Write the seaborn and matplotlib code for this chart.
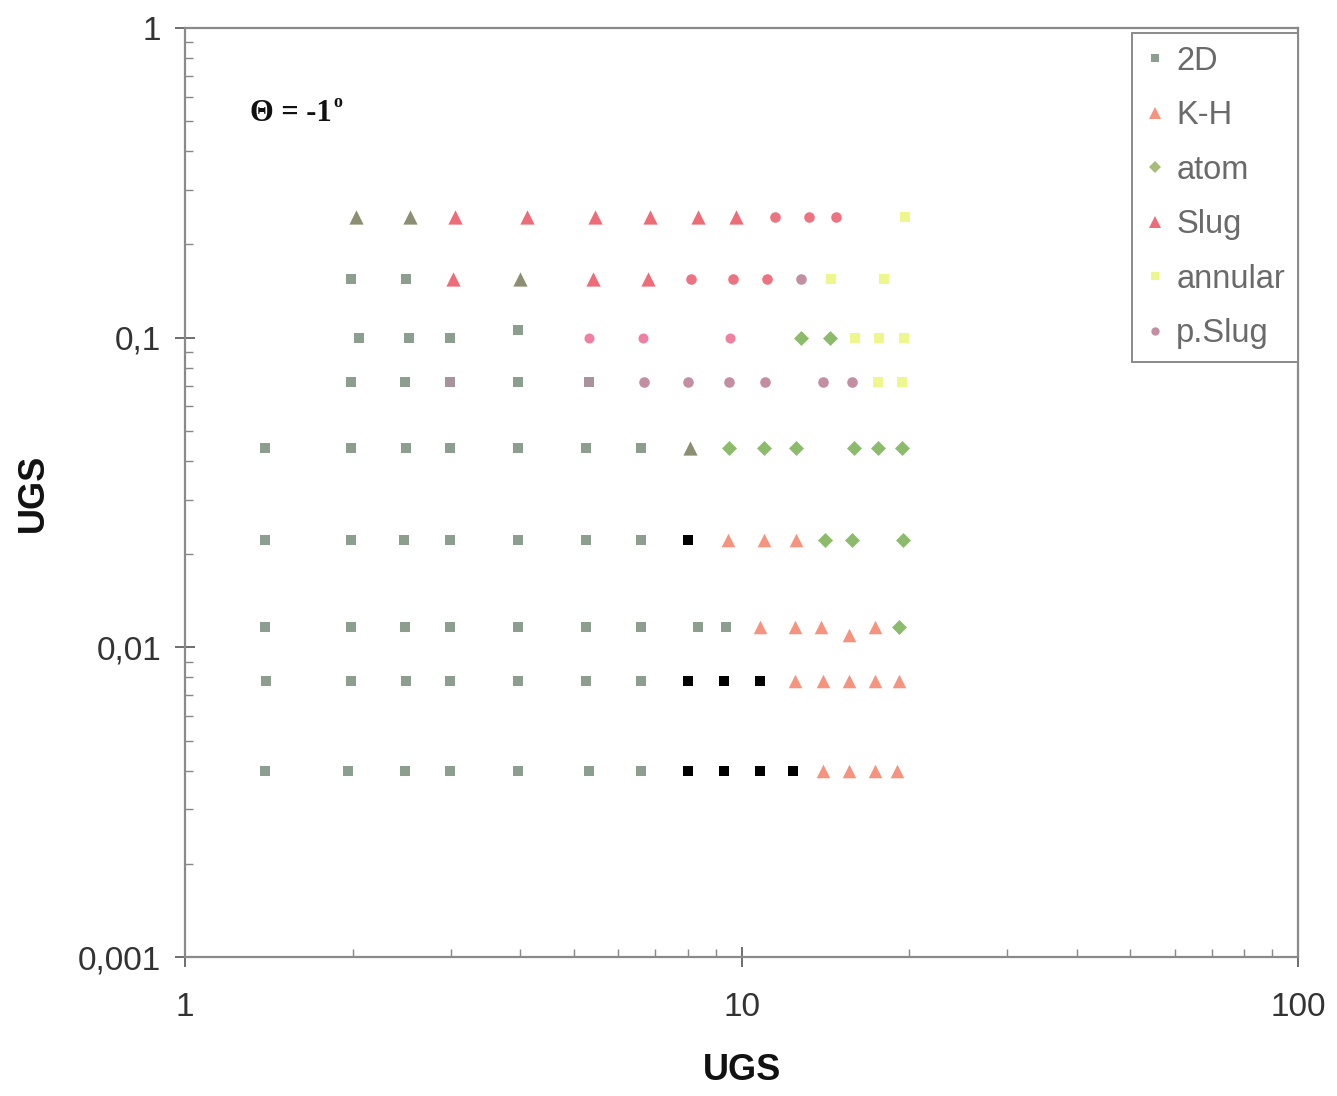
import matplotlib
matplotlib.use("Agg")
import matplotlib.pyplot as plt
from matplotlib.lines import Line2D
from matplotlib.ticker import LogLocator, FixedLocator, FixedFormatter, NullFormatter
import seaborn as sns
import pandas as pd

# ---- flow-regime observations (UGS on both axes, log-log) ----
flat_2d_x = [1.99, 2.50,
             2.05, 2.53, 2.99, 3.96,
             1.99, 2.48, 3.96,
             1.39, 1.99, 2.50, 2.99, 3.96, 5.26, 6.61,
             1.39, 1.99, 2.47, 2.99, 3.96, 5.26, 6.61,
             1.39, 1.99, 2.48, 2.99, 3.96, 5.26, 6.61, 8.34, 9.36,
             1.40, 1.99, 2.50, 2.99, 3.96, 5.26, 6.61,
             1.39, 1.96, 2.48, 2.99, 3.96, 5.31, 6.61]
flat_2d_y = [0.155, 0.155,
             0.1, 0.1, 0.1, 0.106,
             0.072, 0.072, 0.072,
             0.044, 0.044, 0.044, 0.044, 0.044, 0.044, 0.044,
             0.0222, 0.0222, 0.0222, 0.0222, 0.0222, 0.0222, 0.0222,
             0.0116, 0.0116, 0.0116, 0.0116, 0.0116, 0.0116, 0.0116, 0.0116, 0.0116,
             0.0078, 0.0078, 0.0078, 0.0078, 0.0078, 0.0078, 0.0078,
             0.004, 0.004, 0.004, 0.004, 0.004, 0.004, 0.004]

kh_x = [9.44, 10.96, 12.51,
        10.8, 12.5, 13.9, 15.6, 17.35,
        12.5, 14.0, 15.6, 17.35, 19.2,
        14.0, 15.6, 17.35, 19.0]
kh_y = [0.0222, 0.0222, 0.0222,
        0.0116, 0.0116, 0.0116, 0.011, 0.0116,
        0.0078, 0.0078, 0.0078, 0.0078, 0.0078,
        0.004, 0.004, 0.004, 0.004]

atom_x = [12.8, 14.4,
          9.51, 10.96, 12.51, 15.9, 17.6, 19.4,
          14.1, 15.8, 19.5,
          19.2]
atom_y = [0.1, 0.1,
          0.044, 0.044, 0.044, 0.044, 0.044, 0.044,
          0.0222, 0.0222, 0.0222,
          0.0116]

slug_x = [3.06, 4.11, 5.46, 6.86, 8.34, 9.79,
          3.03, 5.40, 6.78]
slug_y = [0.245, 0.245, 0.245, 0.245, 0.245, 0.245,
          0.155, 0.155, 0.155]

annular_x = [19.7, 14.5, 18.0, 16.0, 17.7, 19.6, 17.6, 19.4]
annular_y = [0.245, 0.155, 0.155, 0.1, 0.1, 0.1, 0.072, 0.072]

pslug_x = [12.8, 6.69, 8.03, 9.48, 11.0, 14.0, 15.8]
pslug_y = [0.155, 0.072, 0.072, 0.072, 0.072, 0.072, 0.072]

# additional groups shown without a legend entry
wavy_tri_x = [2.03, 2.54, 4.0, 8.09]
wavy_tri_y = [0.245, 0.245, 0.155, 0.044]

slug_dot_x = [11.5, 13.2, 14.8, 8.13, 9.67, 11.1]
slug_dot_y = [0.245, 0.245, 0.245, 0.155, 0.155, 0.155]

pink_dot_x = [5.31, 6.66, 9.55]
pink_dot_y = [0.1, 0.1, 0.1]

mauve_sq_x = [2.99, 5.33]
mauve_sq_y = [0.072, 0.072]

black_x = [8.0, 8.0, 9.32, 10.8, 8.03, 9.32, 10.8, 12.4]
black_y = [0.0222, 0.0078, 0.0078, 0.0078, 0.004, 0.004, 0.004, 0.004]

legend_labels = ["2D", "K-H", "atom", "Slug", "annular", "p.Slug"]
x_tick_labels = ["1", "10", "100"]
y_tick_labels = ["0,001", "0,01", "0,1", "1"]

sns.set_theme(style="white")
plt.rcParams["font.family"] = ["Liberation Sans", "DejaVu Sans"]

fig = plt.figure(figsize=(13.37, 10.96), dpi=100)
ax = fig.add_axes([0.1384, 0.1268, 0.8324, 0.8477])

groups = [
    (flat_2d_x, flat_2d_y, "s", "#8c9f8f", 44),
    (mauve_sq_x, mauve_sq_y, "s", "#a8929c", 44),
    (black_x, black_y, "s", "#000000", 50),
    (wavy_tri_x, wavy_tri_y, "^", "#8e8e72", 105),
    (slug_x, slug_y, "^", "#ee6b78", 105),
    (kh_x, kh_y, "^", "#f5937f", 95),
    (atom_x, atom_y, "D", "#8cbb6c", 58),
    (annular_x, annular_y, "s", "#eef78c", 48),
    (pslug_x, pslug_y, "o", "#c48ea2", 58),
    (slug_dot_x, slug_dot_y, "o", "#ee7382", 58),
    (pink_dot_x, pink_dot_y, "o", "#f07fa2", 52),
]
for gx, gy, mk, col, size in groups:
    df = pd.DataFrame({"x": gx, "y": gy})
    sns.scatterplot(data=df, x="x", y="y", marker=mk, color=col, s=size,
                    linewidth=0, legend=False, ax=ax, zorder=3)

ax.set_xscale("log")
ax.set_yscale("log")
ax.set_xlim(1, 100)
ax.set_ylim(0.001, 1)

ax.xaxis.set_major_locator(FixedLocator([1, 10, 100]))
ax.xaxis.set_major_formatter(FixedFormatter(x_tick_labels))
ax.yaxis.set_major_locator(FixedLocator([0.001, 0.01, 0.1, 1]))
ax.yaxis.set_major_formatter(FixedFormatter(y_tick_labels))
ax.xaxis.set_minor_locator(LogLocator(base=10, subs=range(2, 10)))
ax.yaxis.set_minor_locator(LogLocator(base=10, subs=range(2, 10)))
ax.xaxis.set_minor_formatter(NullFormatter())
ax.yaxis.set_minor_formatter(NullFormatter())

ax.tick_params(axis="both", which="major", direction="inout", length=14,
               width=1.2, color="#555555", labelsize=24, labelcolor="#333333",
               bottom=True, left=True, top=False, right=False)
ax.tick_params(axis="x", which="major", pad=18)
ax.tick_params(axis="y", which="major", pad=10)
ax.tick_params(axis="both", which="minor", direction="in", length=6,
               width=1.0, color="#888888",
               bottom=True, left=True, top=False, right=False)

for side in ["left", "bottom", "top", "right"]:
    ax.spines[side].set_color("#8a8a8a")
    ax.spines[side].set_linewidth(1.6)

ax.set_xlabel("UGS", fontsize=26, fontweight="bold", color="#111111", labelpad=22)
ax.set_ylabel("UGS", fontsize=26, fontweight="bold", color="#111111", labelpad=20)

# inclination label with a degree superscript placed right after it
serif = ["Liberation Serif", "DejaVu Serif"]
angle_txt = ax.text(0.058, 0.908, "Θ = -1", transform=ax.transAxes,
                    fontsize=22, fontweight="bold", family=serif,
                    color="#111111", va="center", ha="left")
fig.canvas.draw()
bb = angle_txt.get_window_extent().transformed(ax.transAxes.inverted())
ax.text(bb.x1 + 0.002, bb.y1 - 0.009, "o", transform=ax.transAxes,
        fontsize=13, fontweight="bold", family=serif,
        color="#111111", va="baseline", ha="left")

legend_styles = [("s", "#8c9f8f", 6), ("^", "#f5937f", 8), ("D", "#a6bd7a", 6),
                 ("^", "#ee6b78", 8), ("s", "#eef78c", 6), ("o", "#c48ea2", 6)]
handles = [Line2D([], [], linestyle="none", marker=m, color=c, markersize=ms,
                  markeredgewidth=0, label=lab)
           for (m, c, ms), lab in zip(legend_styles, legend_labels)]
leg = ax.legend(handles=handles, loc="upper right", bbox_to_anchor=(1.0, 0.995),
                fontsize=23.5, frameon=True, fancybox=False, framealpha=1,
                edgecolor="#8a8a8a", handlelength=0.6, handletextpad=0.35,
                labelspacing=0.72, borderpad=0.4, borderaxespad=0.0)
leg.get_frame().set_linewidth(1.4)
for t in leg.get_texts():
    t.set_color("#6a6a6a")

fig.savefig("out.png", dpi=100, facecolor="white")
